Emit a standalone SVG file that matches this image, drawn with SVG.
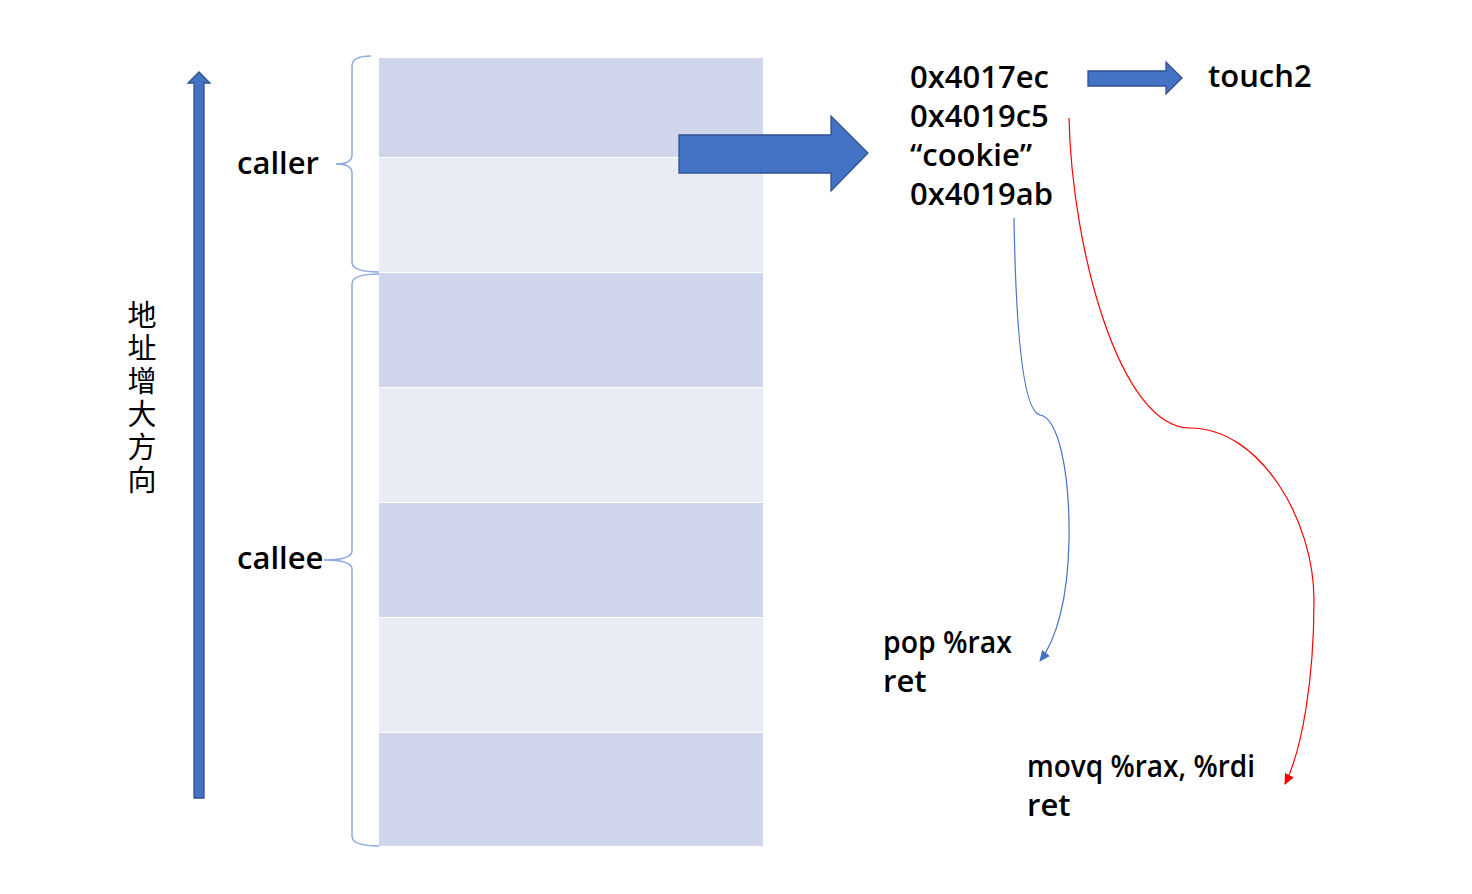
<svg xmlns="http://www.w3.org/2000/svg" width="1472" height="894" viewBox="0 0 1472 894">
<style>
.dark{fill:#CFD5EA}
.light{fill:#E9EBF5}
.bar{fill:#4472C4;stroke:#2F528F;stroke-width:1.3}
.brace{fill:none;stroke:#8FAADC;stroke-width:1.5}
.t{font-family:"Open Sans","Noto Sans",sans-serif;font-weight:600;font-size:31px;fill:#000}
.cn{font-family:"Noto Sans CJK SC",sans-serif;font-size:29px;fill:#000;writing-mode:vertical-rl;text-orientation:upright;letter-spacing:4px}
</style>
<defs>
<marker id="mb" markerWidth="12" markerHeight="10" refX="10" refY="5" orient="auto" markerUnits="userSpaceOnUse"><path d="M0,0 L11,5 L0,10 Z" fill="#4472C4"/></marker>
<marker id="mr" markerWidth="12" markerHeight="10" refX="10" refY="5" orient="auto" markerUnits="userSpaceOnUse"><path d="M0,0 L11,5 L0,10 Z" fill="#FF0000"/></marker>
</defs>
<rect width="1472" height="894" fill="#fff"/>
<g id="stack">
<rect class="dark" x="379" y="58" width="384" height="99"/>
<rect class="light" x="379" y="158" width="384" height="114"/>
<rect class="dark" x="379" y="273" width="384" height="114"/>
<rect class="light" x="379" y="388" width="384" height="114"/>
<rect class="dark" x="379" y="503" width="384" height="114"/>
<rect class="light" x="379" y="618" width="384" height="114"/>
<rect class="dark" x="379" y="733" width="384" height="113"/>
</g>
<g id="addr-arrow">
<path class="bar" d="M194,798 L194,83 L188,83 L199,72 L210,83 L204,83 L204,798 Z"/>
</g>
<g id="addr-label">
<text class="cn" x="142" y="300">地址增大方向</text>
</g>
<g id="caller">
<path class="brace" d="M371,56 Q352,56 352,66 L352,155 Q352,164 336,164 Q352,164 352,173 L352,262 Q352,272 379,272"/>
<text class="t" x="237" y="174">caller</text>
</g>
<g id="callee">
<path class="brace" d="M379,274 Q352,274 352,284 L352,551 Q352,560 324,560 Q352,560 352,569 L352,836 Q352,846 379,846"/>
<text class="t" x="237" y="569">callee</text>
</g>
<g id="big-arrow">
<path class="bar" d="M679,135 L831,135 L831,116 L868,153 L831,191 L831,173 L679,173 Z"/>
</g>
<g id="payload">
<text class="t" x="910" y="88">0x4017ec</text>
<text class="t" x="910" y="127">0x4019c5</text>
<text class="t" x="910" y="166">“cookie”</text>
<text class="t" x="910" y="205">0x4019ab</text>
</g>
<g id="small-arrow">
<path class="bar" d="M1088,71 L1166,71 L1166,62 L1182,78 L1166,94 L1166,86 L1088,86 Z"/>
</g>
<g id="touch2"><text class="t" x="1208" y="87">touch2</text></g>
<g id="pop"><text class="t" x="883" y="653" textLength="129" lengthAdjust="spacingAndGlyphs">pop %rax</text><text class="t" x="883" y="692">ret</text></g>
<g id="movq"><text class="t" x="1027" y="777" textLength="228" lengthAdjust="spacingAndGlyphs">movq %rax, %rdi</text><text class="t" x="1027" y="816">ret</text></g>
<g id="connectors">
<path d="M1014,218 C1016,340 1024,412 1040,415 C1058,418 1070,470 1069,540 C1068,600 1056,640 1040,661" fill="none" stroke="#4472C4" stroke-width="1.2" marker-end="url(#mb)"/>
<path d="M1069,118 C1072,250 1120,428 1190,428 C1260,428 1314,520 1314,600 C1314,680 1302,750 1285,784" fill="none" stroke="#FF0000" stroke-width="1.2" marker-end="url(#mr)"/>
</g>
</svg>
